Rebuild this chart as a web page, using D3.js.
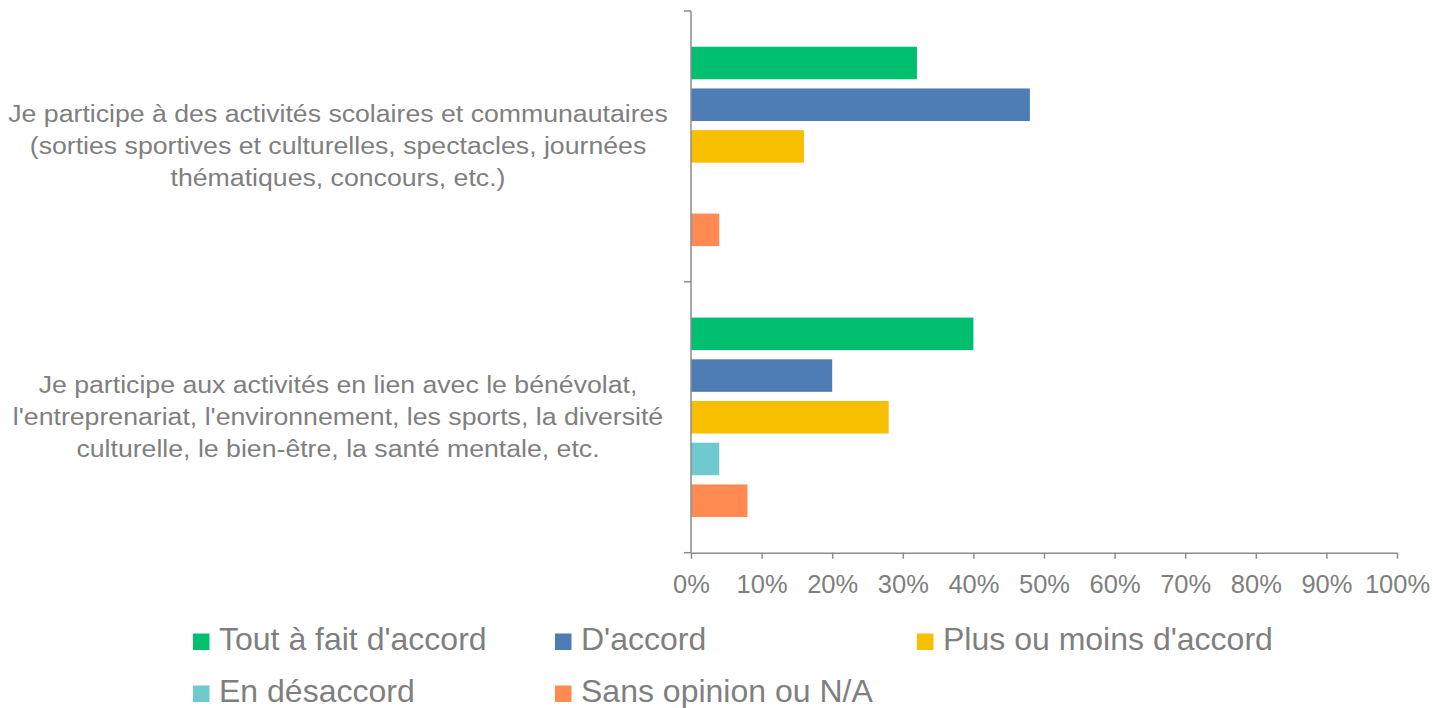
<!DOCTYPE html>
<html>
<head>
<meta charset="utf-8">
<script src="https://cdn.jsdelivr.net/npm/d3@7"></script>
<style>
	body { margin: 0; background: #ffffff; }
	text { font-family: "Liberation Sans", Arial, sans-serif; fill: #7f7f7f; }
	.axis path, .axis line { stroke: #8c8c8c; stroke-width: 1.5; }
</style>
</head>
<body>
<div id="chart"></div>
<script>

// category labels, already split into the lines of the original
var categories = [
	["Je participe à des activités scolaires et communautaires",
	 "(sorties sportives et culturelles, spectacles, journées",
	 "thématiques, concours, etc.)"],
	["Je participe aux activités en lien avec le bénévolat,",
	 "l'entreprenariat, l'environnement, les sports, la diversité",
	 "culturelle, le bien-être, la santé mentale, etc."]
];

var seriesNames = ["Tout à fait d'accord", "D'accord", "Plus ou moins d'accord", "En désaccord", "Sans opinion ou N/A"];
var seriesColors = ["#00bf6f", "#4e7cb5", "#f8be00", "#6ecacd", "#ff8b52"];

// values in percent, one per category
var toutAFait = [32, 40];
var daccord = [48, 20];
var plusOuMoins = [16, 28];
var desaccord = [0, 4];
var sansOpinion = [4, 8];

var xTicks = [0, 10, 20, 30, 40, 50, 60, 70, 80, 90, 100];

var seriesValues = [toutAFait, daccord, plusOuMoins, desaccord, sansOpinion];

var width = 1433, height = 708;
var plotLeft = 691, plotRight = 1397, plotTop = 11, plotBottom = 552.7;

var svg = d3.select("#chart")
	.append("svg")
	.attr("width", width)
	.attr("height", height);

var x = d3.scaleLinear().domain([0, 100]).range([plotLeft, plotRight]);

var y0 = d3.scaleBand()
	.domain(d3.range(categories.length))
	.range([plotTop, plotBottom]);

var y1 = d3.scaleBand()
	.domain(seriesNames)
	.range([0, y0.bandwidth()])
	.paddingInner(0.22)
	.paddingOuter(0.857);

// bars
var groups = svg.selectAll("g.category")
	.data(categories)
	.enter()
		.append("g")
		.attr("class", "category")
		.attr("transform", function(d, i) { return "translate(0," + y0(i) + ")"; });

groups.selectAll("rect")
	.data(function(d, i) {
		return seriesNames.map(function(name, s) {
			return { name: name, value: seriesValues[s][i], color: seriesColors[s] };
		});
	})
	.enter()
		.append("rect")
		.attr("x", x(0))
		.attr("y", function(d) { return y1(d.name); })
		.attr("width", function(d) { return x(d.value) - x(0); })
		.attr("height", y1.bandwidth())
		.attr("fill", function(d) { return d.color; });

// category labels (the original font is drawn a bit wider than Arial)
groups.append("text")
	.attr("text-anchor", "middle")
	.attr("font-size", "23px")
	.attr("transform", "translate(338," + (y0.bandwidth() / 2) + ") scale(1.16,1)")
	.selectAll("tspan")
	.data(function(d) { return d; })
	.enter()
		.append("tspan")
		.attr("x", 0)
		.attr("y", function(d, i, all) { return (i - (all.length - 1) / 2) * 32 + 8; })
		.text(function(d) { return d; });

// x axis
svg.append("g")
	.attr("class", "axis")
	.attr("transform", "translate(0," + plotBottom + ")")
	.call(d3.axisBottom(x)
		.tickValues(xTicks)
		.tickSize(6)
		.tickSizeOuter(0)
		.tickPadding(16)
		.tickFormat(function(d) { return d + "%"; }))
	.selectAll("text")
		.attr("font-family", null)
		.attr("font-size", "25.5px")
		.attr("fill", "#7f7f7f");

// y axis: line with ticks on the category boundaries
var yAxis = svg.append("g").attr("class", "axis");
yAxis.append("line")
	.attr("x1", plotLeft).attr("x2", plotLeft)
	.attr("y1", plotTop).attr("y2", plotBottom);
yAxis.selectAll("line.tick")
	.data(d3.range(categories.length + 1))
	.enter()
		.append("line")
		.attr("class", "tick")
		.attr("x1", plotLeft - 7).attr("x2", plotLeft)
		.attr("y1", function(d) { return d < categories.length ? y0(d) : plotBottom; })
		.attr("y2", function(d) { return d < categories.length ? y0(d) : plotBottom; });

// legend
var legend = svg.selectAll("g.legend")
	.data(seriesNames)
	.enter()
		.append("g")
		.attr("class", "legend")
		.attr("transform", function(d, i) {
			return "translate(" + (193 + (i % 3) * 362) + "," + (633.5 + Math.floor(i / 3) * 52) + ")";
		});

legend.append("rect")
	.attr("width", 16.5)
	.attr("height", 16.5)
	.attr("fill", function(d, i) { return seriesColors[i]; });

legend.append("text")
	.attr("x", 26)
	.attr("y", 16.5)
	.attr("font-size", "32px")
	.text(function(d) { return d; });

</script>
</body>
</html>
